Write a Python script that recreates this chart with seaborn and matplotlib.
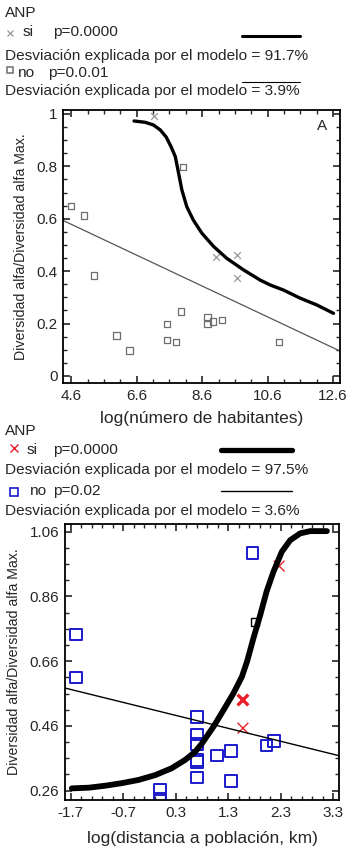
import numpy as np
import pandas as pd
import matplotlib.pyplot as plt
import seaborn as sns
from matplotlib.lines import Line2D
from matplotlib.ticker import MultipleLocator, FixedLocator

# ---- panel A: log(numero de habitantes)
a_si_x = [7.13, 9.01, 9.65, 9.65]
a_si_y = [0.994, 0.453, 0.463, 0.373]
a_no_x = [4.59, 4.99, 5.29, 8.01, 5.99, 6.38, 7.52, 7.52, 7.80, 7.96, 8.76, 8.76, 8.93, 9.20, 10.94]
a_no_y = [0.649, 0.612, 0.383, 0.797, 0.155, 0.097, 0.198, 0.137, 0.129, 0.245, 0.225, 0.198, 0.207, 0.214, 0.129]
a_fit_si_x = [6.52, 6.86, 7.11, 7.32, 7.50, 7.65, 7.78, 7.88, 7.98, 8.13, 8.33, 8.59, 8.95,
              9.35, 9.86, 10.37, 10.68, 11.08, 11.59, 12.10, 12.61]
a_fit_si_y = [0.973, 0.968, 0.958, 0.939, 0.912, 0.875, 0.837, 0.774, 0.710, 0.646, 0.595, 0.545, 0.494,
              0.449, 0.405, 0.366, 0.347, 0.328, 0.297, 0.271, 0.239]
a_fit_no_x = [4.36, 12.81]
a_fit_no_y = [0.593, 0.095]

# ---- panel B: log(distancia a poblacion, km)
b_si_x = [2.27, 1.58, 1.58]
b_si_y = [0.954, 0.540, 0.453]
b_no_x = [-1.60, -1.60, 1.76, 0.70, 0.70, 0.70, 0.70, 0.70, 0.70, 0.00, 0.00, 1.08, 1.35, 1.35, 2.03, 2.17]
b_no_y = [0.743, 0.610, 0.995, 0.487, 0.434, 0.404, 0.355, 0.348, 0.301, 0.264, 0.236, 0.369, 0.383, 0.290, 0.399, 0.414]
b_extra_x = [1.81]
b_extra_y = [0.782]
b_fit_si_x = [-1.68, -1.36, -1.05, -0.73, -0.41, -0.09, 0.22, 0.48, 0.67, 0.80, 1.02, 1.21, 1.40,
              1.56, 1.66, 1.78, 1.91, 2.03, 2.16, 2.32, 2.48, 2.67, 2.86, 3.18]
b_fit_si_y = [0.267, 0.269, 0.275, 0.283, 0.293, 0.308, 0.329, 0.355, 0.380, 0.406, 0.458, 0.509, 0.561,
              0.612, 0.660, 0.731, 0.803, 0.875, 0.936, 0.998, 1.034, 1.055, 1.062, 1.062]
b_fit_no_x = [-1.81, 3.41]
b_fit_no_y = [0.577, 0.368]

sns.set_style("ticks")
plt.rcParams['font.family'] = ['Liberation Sans', 'DejaVu Sans']

W, H = 349, 850
fig = plt.figure(figsize=(W / 100, H / 100), dpi=100)

def fx(px):
    return px / W

def fy(py):
    return 1 - py / H

def box(l, t, r, b):
    return [fx(l), fy(b), fx(r) - fx(l), fy(t) - fy(b)]

axA = fig.add_axes(box(63, 110, 340, 383))
axB = fig.add_axes(box(65, 524, 339, 800))

gray = "#6e6e6e"
blue = "#1a1acc"
red = "#e8202a"

# panel A
sns.lineplot(x=a_fit_no_x, y=a_fit_no_y, ax=axA, color="#555555", lw=0.9)
sns.lineplot(x=a_fit_si_x, y=a_fit_si_y, ax=axA, color="black", lw=2.4, sort=False)
sns.scatterplot(x=a_no_x, y=a_no_y, ax=axA, marker="s", s=22, facecolor="none",
                edgecolor=gray, linewidth=0.9)
sns.scatterplot(x=a_si_x, y=a_si_y, ax=axA, marker="x", s=24, color="#999999", linewidth=0.9)
axA.set_xlim(4.35, 12.81)
axA.set_ylim(-0.027, 1.015)
axA.xaxis.set_major_locator(FixedLocator([4.6, 6.6, 8.6, 10.6, 12.6]))
axA.xaxis.set_minor_locator(FixedLocator(np.arange(4.6, 12.7, 0.5)))
axA.yaxis.set_major_locator(FixedLocator([0, 0.2, 0.4, 0.6, 0.8, 1.0]))
axA.yaxis.set_minor_locator(MultipleLocator(0.05))
axA.set_yticklabels(["0", "0.2", "0.4", "0.6", "0.8", "1"])
axA.set_xticklabels(["4.6", "6.6", "8.6", "10.6", "12.6"])
axA.set_xlabel("log(número de habitantes)", fontsize=12.5, labelpad=6)
axA.set_ylabel("Diversidad alfa/Diversidad alfa Max.", fontsize=10.2, labelpad=6)
axA.text(0.934, 0.941, "A", transform=axA.transAxes, fontsize=11, ha="center", va="center")

# panel B
sns.lineplot(x=b_fit_no_x, y=b_fit_no_y, ax=axB, color="black", lw=1.0)
sns.lineplot(x=b_fit_si_x, y=b_fit_si_y, ax=axB, color="black", lw=4.2, sort=False)
sns.scatterplot(x=b_no_x, y=b_no_y, ax=axB, marker="s", s=70, facecolor="none",
                edgecolor=blue, linewidth=1.4)
sns.scatterplot(x=b_extra_x, y=b_extra_y, ax=axB, marker="s", s=30, facecolor="none",
                edgecolor="black", linewidth=1.0)
sns.scatterplot(x=b_si_x, y=b_si_y, ax=axB, marker="x", s=60, color=red,
                linewidth=[1.0, 2.4, 1.0])
axB.set_xlim(-1.81, 3.41)
axB.set_ylim(0.231, 1.084)
axB.xaxis.set_major_locator(FixedLocator([-1.7, -0.7, 0.3, 1.3, 2.3, 3.3]))
axB.xaxis.set_minor_locator(FixedLocator(np.arange(-1.7, 3.35, 0.2)))
axB.yaxis.set_major_locator(FixedLocator([0.26, 0.46, 0.66, 0.86, 1.06]))
axB.yaxis.set_minor_locator(FixedLocator(np.arange(0.26, 1.08, 0.05)))
axB.set_xticklabels(["-1.7", "-0.7", "0.3", "1.3", "2.3", "3.3"])
axB.set_yticklabels(["0.26", "0.46", "0.66", "0.86", "1.06"])
axB.set_xlabel("log(distancia a población, km)", fontsize=12.5, labelpad=8)
axB.set_ylabel("Diversidad alfa/Diversidad alfa Max.", fontsize=10.2, labelpad=6)

for ax in (axA, axB):
    for sp in ax.spines.values():
        sp.set_linewidth(1.3)
        sp.set_color("black")
    ax.tick_params(which="both", direction="in", top=True, right=True, labelsize=11, pad=4)
    ax.tick_params(which="major", length=5, width=1.2)
    ax.tick_params(which="minor", length=3, width=1.0)

# legends (text rows placed by baseline, in pixels)
fs = 11.1
def legend_block(rows, mark_y, mx, mcolor, msize, mlw, si_pos, no_pos, si_txt, no_txt, dev1, dev2,
                 thick_y, thin_y, thick_lw, thin_lw, lines_x, no_marker_color):
    kw = dict(fontsize=fs, va="baseline")
    fig.text(fx(5), fy(rows[0]), "ANP", **kw)
    fig.text(fx(si_pos[0]), fy(rows[1]), "si", **kw)
    fig.text(fx(si_pos[1]), fy(rows[1]), si_txt, **kw)
    fig.text(fx(5), fy(rows[2]), dev1, **kw)
    fig.text(fx(no_pos[0]), fy(rows[3]), "no", **kw)
    fig.text(fx(no_pos[1]), fy(rows[3]), no_txt, **kw)
    fig.text(fx(5), fy(rows[4]), dev2, **kw)
    fig.add_artist(Line2D([fx(mx)], [fy(mark_y[0])], marker="x", color=mcolor, ms=msize,
                          mew=mlw, transform=fig.transFigure))
    fig.add_artist(Line2D([fx(mx)], [fy(mark_y[1])], marker="s", mfc="none", mec=no_marker_color,
                          ms=msize, mew=mlw + 0.2, transform=fig.transFigure))
    fig.add_artist(Line2D([fx(lines_x[0]), fx(lines_x[1])], [fy(thick_y), fy(thick_y)],
                          color="black", lw=thick_lw, transform=fig.transFigure))
    fig.add_artist(Line2D([fx(lines_x[0]), fx(lines_x[1])], [fy(thin_y), fy(thin_y)],
                          color="black", lw=thin_lw, transform=fig.transFigure))

legend_block([16.7, 36, 60, 76.7, 95], (33, 70), 10, "#999999", 4, 0.9, (23, 53), (18, 48),
             "p=0.0000", "p=0.0.01",
             "Desviación explicada por el modelo = 91.7%",
             "Desviación explicada por el modelo = 3.9%",
             35.5, 81.5, 2.2, 0.8, (242, 300), gray)
legend_block([435, 454, 474, 495, 515], (448.5, 491.5), 14, red, 6, 1.0, (27, 53), (30, 53),
             "p=0.0000", "p=0.02",
             "Desviación explicada por el modelo = 97.5%",
             "Desviación explicada por el modelo = 3.6%",
             449.5, 490.5, 3.8, 1.0, (221, 292), blue)

fig.savefig("out.png", dpi=100)
